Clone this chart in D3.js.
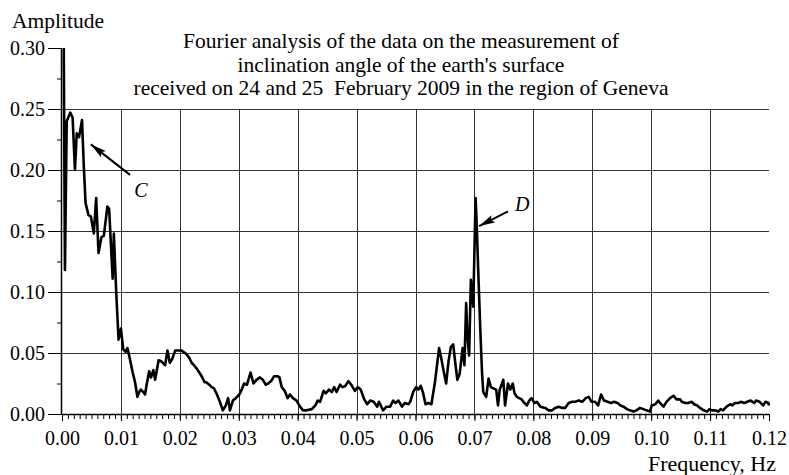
<!DOCTYPE html>
<html>
<head>
<meta charset="utf-8">
<script src="https://cdn.jsdelivr.net/npm/d3@7/dist/d3.min.js"></script>
<style>
  body { margin: 0; background: #fff; }
  svg text { font-family: "Liberation Serif", "Times New Roman", serif; fill: #000; }
</style>
</head>
<body>
<script>
// values: frequency (Hz) and amplitude
var freq = [
  0.0003, 0.0005, 0.0008, 0.0014, 0.0018, 0.0022, 0.0025, 0.0029, 0.0034, 0.0037,
  0.0040, 0.0045, 0.0049, 0.0054, 0.0058, 0.0062, 0.0067, 0.0071, 0.0077, 0.0080,
  0.0086, 0.0088, 0.0092, 0.0096, 0.0100, 0.0104, 0.0108, 0.0111, 0.0114, 0.0120,
  0.0124, 0.0128, 0.0131, 0.0134, 0.0138, 0.0141, 0.0144, 0.0148, 0.0151, 0.0155,
  0.0158, 0.0164, 0.0169, 0.0175, 0.0179, 0.0183, 0.0187, 0.0192, 0.0197, 0.0203,
  0.0209, 0.0213, 0.0216, 0.0220, 0.0224, 0.0229, 0.0233, 0.0237, 0.0242, 0.0245,
  0.0250, 0.0254, 0.0258, 0.0263, 0.0268, 0.0273, 0.0278, 0.0282, 0.0285, 0.0290,
  0.0295, 0.0301, 0.0305, 0.0309, 0.0314, 0.0320, 0.0325, 0.0330, 0.0336, 0.0341,
  0.0346, 0.0350, 0.0355, 0.0360, 0.0366, 0.0369, 0.0373, 0.0378, 0.0383, 0.0387,
  0.0392, 0.0398, 0.0404, 0.0409, 0.0415, 0.0424, 0.0430, 0.0434, 0.0438, 0.0444,
  0.0448, 0.0453, 0.0458, 0.0462, 0.0466, 0.0472, 0.0476, 0.0481, 0.0486, 0.0491,
  0.0497, 0.0502, 0.0507, 0.0513, 0.0518, 0.0523, 0.0529, 0.0535, 0.0538, 0.0545,
  0.0551, 0.0557, 0.0562, 0.0566, 0.0571, 0.0577, 0.0582, 0.0588, 0.0591, 0.0596,
  0.0601, 0.0605, 0.0609, 0.0613, 0.0617, 0.0622, 0.0627, 0.0633, 0.0637, 0.0640,
  0.0644, 0.0647, 0.0652, 0.0656, 0.0660, 0.0664, 0.0667, 0.0671, 0.0675, 0.0680,
  0.0683, 0.0686, 0.0688, 0.0691, 0.0694, 0.0696, 0.0698, 0.0702, 0.0704, 0.0707,
  0.0710, 0.0713, 0.0715, 0.0720, 0.0724, 0.0728, 0.0732, 0.0737, 0.0740, 0.0743,
  0.0749, 0.0752, 0.0757, 0.0761, 0.0765, 0.0768, 0.0772, 0.0776, 0.0780, 0.0783,
  0.0789, 0.0793, 0.0797, 0.0802, 0.0806, 0.0812, 0.0820, 0.0826, 0.0832, 0.0837,
  0.0843, 0.0849, 0.0854, 0.0860, 0.0866, 0.0871, 0.0877, 0.0883, 0.0889, 0.0894,
  0.0899, 0.0905, 0.0910, 0.0915, 0.0920, 0.0926, 0.0932, 0.0937, 0.0943, 0.0948,
  0.0953, 0.0959, 0.0964, 0.0970, 0.0975, 0.0981, 0.0987, 0.0992, 0.0998, 0.1001,
  0.1007, 0.1012, 0.1015, 0.1021, 0.1026, 0.1032, 0.1038, 0.1043, 0.1049, 0.1052,
  0.1058, 0.1063, 0.1069, 0.1073, 0.1078, 0.1083, 0.1089, 0.1095, 0.1099, 0.1103,
  0.1109, 0.1114, 0.1118, 0.1122, 0.1128, 0.1134, 0.1138, 0.1142, 0.1148, 0.1152,
  0.1158, 0.1163, 0.1169, 0.1175, 0.1178, 0.1184, 0.1190, 0.1194, 0.1199, 0.1200
];
var amp = [
  0.300, 0.118, 0.240, 0.247, 0.243, 0.200, 0.230, 0.227, 0.241, 0.203,
  0.173, 0.163, 0.162, 0.148, 0.177, 0.132, 0.145, 0.146, 0.170, 0.168,
  0.111, 0.148, 0.100, 0.061, 0.070, 0.053, 0.051, 0.054, 0.048, 0.034,
  0.026, 0.014, 0.018, 0.020, 0.018, 0.016, 0.025, 0.035, 0.030, 0.036,
  0.028, 0.044, 0.043, 0.040, 0.052, 0.042, 0.045, 0.052, 0.052, 0.052,
  0.050, 0.048, 0.046, 0.042, 0.040, 0.037, 0.034, 0.031, 0.026, 0.026,
  0.024, 0.022, 0.021, 0.016, 0.010, 0.003, 0.007, 0.013, 0.003, 0.011,
  0.013, 0.016, 0.020, 0.025, 0.024, 0.034, 0.025, 0.028, 0.030, 0.028,
  0.024, 0.025, 0.027, 0.031, 0.031, 0.030, 0.022, 0.019, 0.013, 0.016,
  0.013, 0.011, 0.006, 0.003, 0.003, 0.004, 0.007, 0.011, 0.010, 0.019,
  0.017, 0.020, 0.018, 0.022, 0.018, 0.024, 0.022, 0.023, 0.027, 0.024,
  0.019, 0.022, 0.020, 0.012, 0.008, 0.011, 0.010, 0.006, 0.010, 0.003,
  0.006, 0.006, 0.011, 0.009, 0.011, 0.006, 0.009, 0.008, 0.010, 0.018,
  0.022, 0.020, 0.023, 0.017, 0.008, 0.009, 0.008, 0.026, 0.042, 0.054,
  0.045, 0.037, 0.025, 0.043, 0.055, 0.057, 0.044, 0.028, 0.033, 0.054,
  0.040, 0.091, 0.064, 0.048, 0.110, 0.098, 0.088, 0.177, 0.154, 0.110,
  0.069, 0.033, 0.018, 0.014, 0.029, 0.022, 0.021, 0.020, 0.007, 0.020,
  0.028, 0.007, 0.025, 0.020, 0.025, 0.017, 0.014, 0.013, 0.012, 0.010,
  0.007, 0.011, 0.013, 0.009, 0.010, 0.006, 0.005, 0.003, 0.003, 0.005,
  0.006, 0.005, 0.005, 0.009, 0.010, 0.010, 0.011, 0.010, 0.013, 0.014,
  0.010, 0.010, 0.007, 0.016, 0.011, 0.010, 0.009, 0.010, 0.009, 0.007,
  0.006, 0.004, 0.003, 0.002, 0.003, 0.005, 0.004, 0.003, 0.002, 0.007,
  0.008, 0.011, 0.009, 0.006, 0.010, 0.013, 0.015, 0.012, 0.012, 0.010,
  0.009, 0.009, 0.010, 0.008, 0.007, 0.005, 0.003, 0.002, 0.004, 0.003,
  0.003, 0.002, 0.004, 0.003, 0.006, 0.008, 0.007, 0.009, 0.009, 0.010,
  0.009, 0.010, 0.011, 0.009, 0.011, 0.010, 0.007, 0.010, 0.009, 0.007
];

var xTicks = [0, 0.01, 0.02, 0.03, 0.04, 0.05, 0.06, 0.07, 0.08, 0.09, 0.10, 0.11, 0.12];
var yTicks = [0, 0.05, 0.10, 0.15, 0.20, 0.25, 0.30];
var titleLines = [
  "Fourier analysis of the data on the measurement of",
  "inclination angle of the earth's surface",
  "received on 24 and 25\u00a0\u00a0February 2009 in the region of Geneva"
];
// annotation arrows: [label, tailX, tailY, tipX, tipY, labelX, labelY]
var notes = [
  ["C", 0.01155, 0.196, 0.0049, 0.221, 0.0134, 0.184],
  ["D", 0.0757, 0.166, 0.0708, 0.154, 0.0781, 0.172]
];

var width = 789, height = 475;
var padL = 62, padR = 769, padT = 48, padB = 414;

var svg = d3.select("body").append("svg")
  .attr("width", width)
  .attr("height", height);

var x = d3.scaleLinear().domain([0, 0.12]).range([padL, padR]);
var y = d3.scaleLinear().domain([0, 0.30]).range([padB, padT]);

// grid
var grid = svg.append("g").attr("stroke", "#333").attr("stroke-width", 1);
grid.selectAll("line.v")
  .data(xTicks.filter(function(d) { return d > 0 && d < 0.115; }))
  .enter().append("line")
    .attr("x1", function(d) { return Math.round(x(d)) + 0.5; })
    .attr("x2", function(d) { return Math.round(x(d)) + 0.5; })
    .attr("y1", y(0.25))
    .attr("y2", padB);
grid.selectAll("line.h")
  .data(yTicks.filter(function(d) { return d > 0 && d < 0.29; }))
  .enter().append("line")
    .attr("x1", padL)
    .attr("x2", padR)
    .attr("y1", function(d) { return Math.round(y(d)) + 0.5; })
    .attr("y2", function(d) { return Math.round(y(d)) + 0.5; });

// title
svg.append("g").selectAll("text")
  .data(titleLines)
  .enter().append("text")
    .attr("x", 401)
    .attr("y", function(d, i) { return 48 + i * 23.5; })
    .attr("text-anchor", "middle")
    .style("font-size", "21.5px")
    .text(function(d) { return d; });

// axes
var minorX = d3.range(0, 121).map(function(i) { return i / 1000; });
svg.append("g")
  .attr("transform", "translate(0," + padB + ")")
  .call(d3.axisBottom(x).tickValues(minorX).tickSize(5).tickFormat(""))
  .call(function(g) { g.select(".domain").remove(); });
var xAxis = svg.append("g")
  .attr("transform", "translate(0," + padB + ")")
  .call(d3.axisBottom(x).tickValues(xTicks).tickSize(7).tickPadding(10).tickFormat(d3.format(".2f")));
xAxis.select(".domain").attr("d", "M" + padL + ",0.5H" + padR).attr("stroke-width", 1.5);
xAxis.selectAll("text").style("font-size", "20px");

var minorY = d3.range(0, 13).map(function(i) { return i * 0.025; });
svg.append("g")
  .attr("transform", "translate(" + padL + ",0)")
  .call(d3.axisLeft(y).tickValues(minorY).tickSize(5).tickFormat(""))
  .call(function(g) { g.select(".domain").remove(); });
var yAxis = svg.append("g")
  .attr("transform", "translate(" + padL + ",0)")
  .call(d3.axisLeft(y).tickValues(yTicks).tickSize(14).tickPadding(3).tickFormat(d3.format(".2f")));
yAxis.select(".domain").attr("d", "M-0.5," + padT + "V" + padB).attr("stroke-width", 1.5);
yAxis.selectAll("text").style("font-size", "20px");

svg.append("text").attr("x", 12).attr("y", 28).style("font-size", "21.5px").text("Amplitude");
svg.append("text").attr("x", 776).attr("y", 471).attr("text-anchor", "end")
  .style("font-size", "22px").text("Frequency, Hz");

// curve
svg.append("clipPath").attr("id", "clip")
  .append("rect").attr("x", padL).attr("y", padT).attr("width", padR - padL + 5).attr("height", padB - padT);
var pts = freq.map(function(f, i) { return [f, amp[i]]; });
svg.append("path")
  .datum(pts)
  .attr("clip-path", "url(#clip)")
  .attr("fill", "none")
  .attr("stroke", "#000")
  .attr("stroke-width", 2.6)
  .attr("stroke-linejoin", "round")
  .attr("d", d3.line().x(function(d) { return x(d[0]); }).y(function(d) { return y(d[1]); }));

// annotations
svg.append("defs").append("marker")
  .attr("id", "arrow")
  .attr("viewBox", "0 0 16 8")
  .attr("refX", 16).attr("refY", 4)
  .attr("markerWidth", 16).attr("markerHeight", 8)
  .attr("markerUnits", "userSpaceOnUse")
  .attr("orient", "auto")
  .append("path").attr("d", "M0,0L16,4L0,8L3,4Z").attr("fill", "#000");
var ann = svg.append("g");
notes.forEach(function(n) {
  ann.append("line")
    .attr("x1", x(n[1])).attr("y1", y(n[2]))
    .attr("x2", x(n[3])).attr("y2", y(n[4]))
    .attr("stroke", "#000").attr("stroke-width", 2)
    .attr("marker-end", "url(#arrow)");
  ann.append("text")
    .attr("x", x(n[5])).attr("y", y(n[6]))
    .attr("text-anchor", "middle")
    .attr("dy", "0.35em")
    .style("font-size", "20px").style("font-style", "italic")
    .text(n[0]);
});
</script>
</body>
</html>
